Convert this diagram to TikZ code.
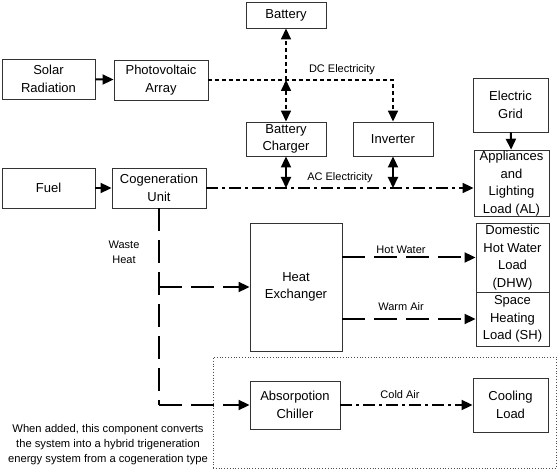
\documentclass[tikz,border=0pt]{standalone}
\usepackage{fontspec}
\setmainfont{Liberation Sans}
\usetikzlibrary{arrows.meta}
\begin{document}
\begin{tikzpicture}[x=1pt,y=-1pt,
  box/.style={draw=black!80, line width=0.9pt, align=center, inner sep=1pt,
    font=\fontsize{13}{17.5}\selectfont},
  lbl/.style={font=\fontsize{11}{15}\selectfont, inner sep=0pt, align=center},
  tip/.style={-{Triangle[length=11pt,width=10pt]}},
  tips/.style={{Triangle[length=11pt,width=10pt]}-{Triangle[length=11pt,width=10pt]}},
  solidline/.style={line width=2pt},
  dcline/.style={line width=1.6pt, dash pattern=on 4pt off 3pt},
  acline/.style={line width=2pt, dash pattern=on 12pt off 4pt on 3pt off 4pt},
  whline/.style={line width=2pt, dash pattern=on 23pt off 9pt}]
\useasboundingbox (0,0) rectangle (557,470);
% optional region
\node (opt) [draw=black!70, dotted, line width=0.8pt, minimum width=343pt, minimum height=111pt, inner sep=0pt] at (384.5,412.5) {};
% boxes
\node (sol)  [box, minimum width=93pt, minimum height=40pt] at (48.5,79) {Solar\\Radiation};
\node (pv)   [box, minimum width=94pt, minimum height=40pt] at (161,80) {Photovoltaic\\Array};
\node (bat)  [box, minimum width=80pt, minimum height=26pt] at (286,15) {Battery};
\node (chg)  [box, minimum width=80pt, minimum height=34pt] at (286,139) {Battery\\Charger};
\node (inv)  [box, minimum width=80pt, minimum height=34pt] at (393,139) {Inverter};
\node (grid) [box, minimum width=75pt, minimum height=54pt] at (510.5,105) {Electric\\Grid};
\node (app)  [box, minimum width=75pt, minimum height=65pt] at (511.5,183.5) {Appliances\\and\\Lighting\\Load (AL)};
\node (fuel) [box, minimum width=93pt, minimum height=40pt] at (48.5,188) {Fuel};
\node (cog)  [box, minimum width=94pt, minimum height=40pt] at (159,188) {Cogeneration\\Unit};
\node (hx)   [box, minimum width=92pt, minimum height=128pt] at (296,287) {Heat\\Exchanger};
\node (dhw)  [box, minimum width=73pt, minimum height=69pt] at (512.5,257.5) {Domestic\\Hot Water\\Load\\(DHW)};
\node (sh)   [box, minimum width=73pt, minimum height=54pt] at (512.5,319) {Space\\Heating\\Load (SH)};
\node (ach)  [box, minimum width=90pt, minimum height=48pt] at (295,405) {Absorpotion\\Chiller};
\node (cool) [box, minimum width=75pt, minimum height=54pt] at (510.5,405) {Cooling\\Load};
% solid inputs
\draw[solidline,tip] (sol) -- (pv);
\draw[solidline,tip] (fuel) -- (cog);
\draw[solidline,tip] (grid) -- (app);
% DC
\coordinate (dcj) at (bat.south |- pv.east);
\draw[dcline,tip] (pv.east) -| (inv.north);
\draw[dcline,tip] (dcj) -- (bat.south);
\draw[dcline,tips] (dcj) -- (chg.north);
\node (dcl) [lbl] at (342,70) {DC Electricity};
% AC
\coordinate (acc) at (chg.south |- cog.east);
\coordinate (aci) at (inv.south |- cog.east);
\draw[acline,tip] (cog.east) -- (app.west |- cog.east);
\draw[solidline,tips] (chg.south) -- (acc);
\draw[solidline,tips] (inv.south) -- (aci);
\node (acl) [lbl] at (340,178) {AC Electricity};
% waste heat
\coordinate (whb) at (cog.south |- ach.west);
\coordinate (whh) at (cog.south |- hx.west);
\draw[whline] (cog.south) -- (whb);
\draw[whline,tip] (whb) -- (ach.west);
\draw[whline,tip] (whh) -- (hx.west);
\node (whl) [lbl] at (124,252) {Waste\\Heat};
% heat outputs
\draw[whline,tip] (hx.east |- dhw.west) -- (dhw.west);
\draw[whline,tip] (hx.east |- sh.west) -- (sh.west);
\node (hwl) [lbl] at (401,250) {Hot Water};
\node (wal) [lbl] at (401,307) {Warm Air};
% cooling
\draw[acline,tip] (ach.east) -- (cool.west);
\node (cal) [lbl] at (400,395) {Cold Air};
% note
\node (note) [lbl, font=\fontsize{11.2}{15}\selectfont] at (108,445) {When added, this component converts\\the system into a hybrid trigeneration\\energy system from a cogeneration type};
\end{tikzpicture}
\end{document}
